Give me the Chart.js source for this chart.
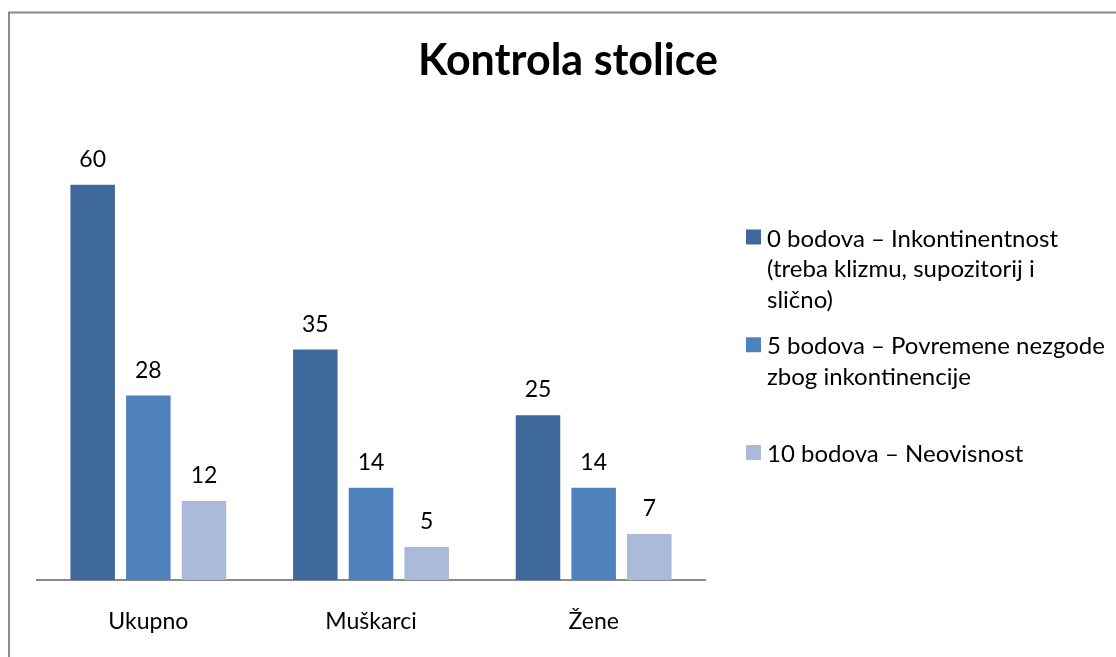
<!DOCTYPE html>
<html>
<head>
<meta charset="utf-8">
<script src="https://cdn.jsdelivr.net/npm/chart.js@4.4.1/dist/chart.umd.min.js"></script>
<style>
  html, body { margin: 0; padding: 0; background: #fff; }
  #wrap { width: 1116px; height: 657px; position: relative; }
</style>
</head>
<body>
<div id="wrap"><canvas id="chart" width="1116" height="657"></canvas></div>
<script>
// podaci
const chartTitle = 'Kontrola stolice';
const categories = ['Ukupno', 'Muškarci', 'Žene'];
const seriesNames = [
    ['0 bodova – Inkontinentnost', '(treba klizmu, supozitorij i', 'slično)'],
    ['5 bodova – Povremene nezgode', 'zbog inkontinencije'],
    ['10 bodova – Neovisnost']
];
const bodova0 = [60, 35, 25];
const bodova5 = [28, 14, 14];
const bodova10 = [12, 5, 7];
const seriesColors = ['#40699b', '#4f81bd', '#aabad8'];

const FONT = 'Lato, "Open Sans", sans-serif';

// okvir, naslov, legenda i vrijednosti iznad stupaca
const decorPlugin = {
    id: 'decor',
    beforeDraw(chart) {
        const ctx = chart.ctx;
        ctx.save();
        ctx.strokeStyle = '#8a8a8a';
        ctx.lineWidth = 2;
        ctx.beginPath();
        ctx.moveTo(9, 660);
        ctx.lineTo(9, 12.5);
        ctx.lineTo(1120, 12.5);
        ctx.stroke();
        ctx.restore();
    },
    afterDraw(chart) {
        const ctx = chart.ctx;
        ctx.save();
        // naslov
        ctx.fillStyle = '#000';
        ctx.font = 'bold 43px ' + FONT;
        ctx.textAlign = 'center';
        ctx.textBaseline = 'alphabetic';
        ctx.fillText(chartTitle, 568, 75);

        // vrijednosti
        ctx.font = '23px ' + FONT;
        chart.data.datasets.forEach((ds, i) => {
            chart.getDatasetMeta(i).data.forEach((bar, j) => {
                ctx.fillText(String(ds.data[j]), bar.x, bar.y - 18);
            });
        });

        // legenda
        ctx.font = '24px ' + FONT;
        ctx.textAlign = 'left';
        const lineH = 30.5;
        chart.data.datasets.forEach((ds, i) => {
            const lines = seriesNames[i];
            const center = 272 + i * 92.5;
            const first = center - (lines.length - 1) * lineH / 2 + 5;
            ctx.fillStyle = ds.backgroundColor;
            ctx.fillRect(746, first - 17, 15, 15);
            ctx.fillStyle = '#000';
            lines.forEach((t, k) => ctx.fillText(t, 767, first + k * lineH));
        });
        ctx.restore();
    }
};

new Chart(document.getElementById('chart'), {
    type: 'bar',
    data: {
        labels: categories,
        datasets: [
            { label: seriesNames[0].join(' '), data: bodova0, backgroundColor: seriesColors[0] },
            { label: seriesNames[1].join(' '), data: bodova5, backgroundColor: seriesColors[1] },
            { label: seriesNames[2].join(' '), data: bodova10, backgroundColor: seriesColors[2] }
        ]
    },
    options: {
        responsive: false,
        animation: false,
        devicePixelRatio: 1,
        layout: { padding: { left: 37, right: 411, top: 119, bottom: 0 } },
        datasets: { bar: { categoryPercentage: 0.75, barPercentage: 0.8 } },
        plugins: {
            legend: { display: false },
            title: { display: false },
            tooltip: { enabled: false }
        },
        scales: {
            x: {
                grid: { display: false, drawTicks: false },
                border: { display: true, color: '#8a8a8a', width: 2 },
                ticks: { color: '#000', padding: 28, font: { family: FONT, size: 23 } },
                afterFit: function(scale) { scale.height = 77; }
            },
            y: {
                display: false,
                min: 0,
                max: 70
            }
        }
    },
    plugins: [decorPlugin]
});
</script>
</body>
</html>
